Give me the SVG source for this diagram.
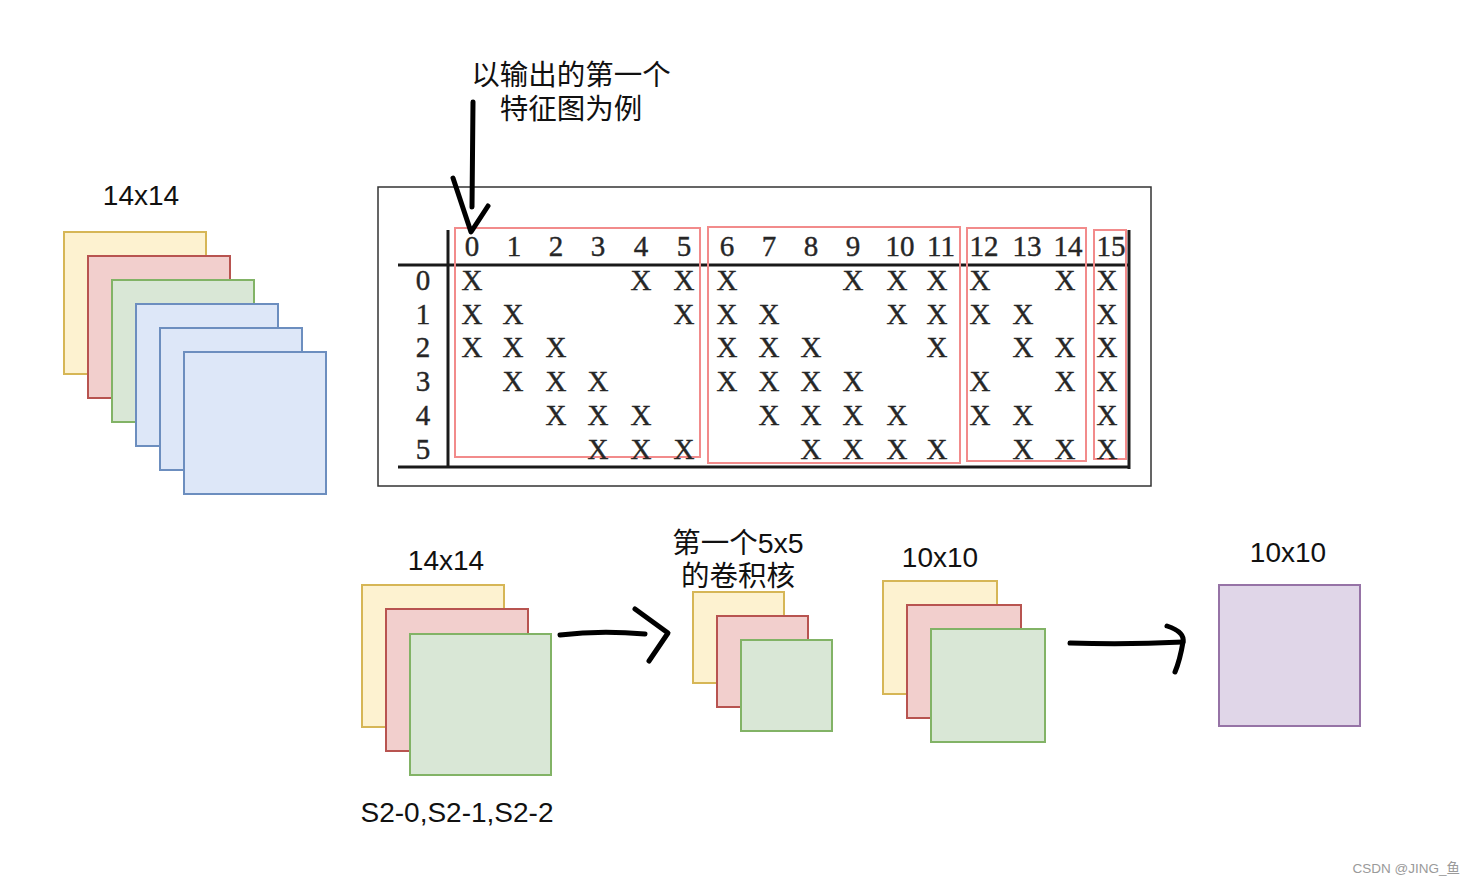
<svg xmlns="http://www.w3.org/2000/svg" width="1476" height="884" viewBox="0 0 1476 884">
<style>
.lbl{font-family:"Liberation Sans",Arial,sans-serif;font-size:28px;fill:#111;text-anchor:middle}
.cjk{font-family:"Liberation Sans","Noto Sans CJK SC",sans-serif;font-size:28.5px;fill:#111;text-anchor:middle}
.tx{font-family:"Liberation Serif","DejaVu Serif",serif;font-size:29px;fill:#262626;stroke:#262626;stroke-width:0.4;text-anchor:middle}
.y{fill:#fdf2d0;stroke:#d6b656;stroke-width:2}
.r{fill:#f2cfcd;stroke:#b85450;stroke-width:2}
.g{fill:#d9e7d6;stroke:#82b366;stroke-width:2}
.b{fill:#dde7f8;stroke:#6c8ebf;stroke-width:2}
.p{fill:#e0d6e8;stroke:#9673a6;stroke-width:2}
.rb{fill:none;stroke:#f28b8b;stroke-width:2}
.tl{stroke:#1a1a1a;stroke-width:3;fill:none}
.hand{stroke:#000;stroke-width:5;fill:none;stroke-linecap:round;stroke-linejoin:round}
</style>
<rect width="1476" height="884" fill="#fff"/>

<g id="note">
<text class="cjk" x="571" y="85">以输出的第一个</text>
<text class="cjk" x="571" y="119">特征图为例</text>
</g>

<g id="input-stack">
<text class="lbl" x="141" y="205">14x14</text>
<rect class="y" x="64" y="232" width="142" height="142"/>
<rect class="r" x="88" y="256" width="142" height="142"/>
<rect class="g" x="112" y="280" width="142" height="142"/>
<rect class="b" x="136" y="304" width="142" height="142"/>
<rect class="b" x="160" y="328" width="142" height="142"/>
<rect class="b" x="184" y="352" width="142" height="142"/>
</g>

<g id="table">
<rect x="378" y="187" width="773" height="299" fill="none" stroke="#333" stroke-width="1.5"/>
<line class="tl" x1="448" y1="230" x2="448" y2="468"/>
<line class="tl" x1="398" y1="265" x2="1130" y2="265"/>
<line class="tl" x1="398" y1="467" x2="1130" y2="467"/>
<line class="tl" x1="1129" y1="230" x2="1129" y2="469" stroke-width="3.5"/>
<rect class="rb" x="455" y="228" width="245" height="229"/>
<rect class="rb" x="708" y="227" width="252" height="236"/>
<rect class="rb" x="967" y="228" width="119" height="233"/>
<rect class="rb" x="1094" y="230" width="32" height="229"/>
<g id="header">
<text class="tx" x="472" y="256">0</text><text class="tx" x="514" y="256">1</text><text class="tx" x="556" y="256">2</text><text class="tx" x="598" y="256">3</text><text class="tx" x="641" y="256">4</text><text class="tx" x="684" y="256">5</text><text class="tx" x="727" y="256">6</text><text class="tx" x="769" y="256">7</text><text class="tx" x="811" y="256">8</text><text class="tx" x="853" y="256">9</text><text class="tx" x="900" y="256">10</text><text class="tx" x="941" y="256">11</text><text class="tx" x="984" y="256">12</text><text class="tx" x="1027" y="256">13</text><text class="tx" x="1068" y="256">14</text><text class="tx" x="1111" y="256">15</text>
</g>
<g id="rowlabels">
<text class="tx" x="423" y="290">0</text><text class="tx" x="423" y="324">1</text><text class="tx" x="423" y="357">2</text><text class="tx" x="423" y="391">3</text><text class="tx" x="423" y="425">4</text><text class="tx" x="423" y="459">5</text>
</g>
<g id="row0">
<text class="tx" x="472" y="290">X</text><text class="tx" x="641" y="290">X</text><text class="tx" x="684" y="290">X</text><text class="tx" x="727" y="290">X</text><text class="tx" x="853" y="290">X</text><text class="tx" x="897" y="290">X</text><text class="tx" x="937" y="290">X</text><text class="tx" x="980" y="290">X</text><text class="tx" x="1065" y="290">X</text><text class="tx" x="1107" y="290">X</text>
</g>
<g id="row1">
<text class="tx" x="472" y="324">X</text><text class="tx" x="513" y="324">X</text><text class="tx" x="684" y="324">X</text><text class="tx" x="727" y="324">X</text><text class="tx" x="769" y="324">X</text><text class="tx" x="897" y="324">X</text><text class="tx" x="937" y="324">X</text><text class="tx" x="980" y="324">X</text><text class="tx" x="1023" y="324">X</text><text class="tx" x="1107" y="324">X</text>
</g>
<g id="row2">
<text class="tx" x="472" y="357">X</text><text class="tx" x="513" y="357">X</text><text class="tx" x="556" y="357">X</text><text class="tx" x="727" y="357">X</text><text class="tx" x="769" y="357">X</text><text class="tx" x="811" y="357">X</text><text class="tx" x="937" y="357">X</text><text class="tx" x="1023" y="357">X</text><text class="tx" x="1065" y="357">X</text><text class="tx" x="1107" y="357">X</text>
</g>
<g id="row3">
<text class="tx" x="513" y="391">X</text><text class="tx" x="556" y="391">X</text><text class="tx" x="598" y="391">X</text><text class="tx" x="727" y="391">X</text><text class="tx" x="769" y="391">X</text><text class="tx" x="811" y="391">X</text><text class="tx" x="853" y="391">X</text><text class="tx" x="980" y="391">X</text><text class="tx" x="1065" y="391">X</text><text class="tx" x="1107" y="391">X</text>
</g>
<g id="row4">
<text class="tx" x="556" y="425">X</text><text class="tx" x="598" y="425">X</text><text class="tx" x="641" y="425">X</text><text class="tx" x="769" y="425">X</text><text class="tx" x="811" y="425">X</text><text class="tx" x="853" y="425">X</text><text class="tx" x="897" y="425">X</text><text class="tx" x="980" y="425">X</text><text class="tx" x="1023" y="425">X</text><text class="tx" x="1107" y="425">X</text>
</g>
<g id="row5">
<text class="tx" x="598" y="459">X</text><text class="tx" x="641" y="459">X</text><text class="tx" x="684" y="459">X</text><text class="tx" x="811" y="459">X</text><text class="tx" x="853" y="459">X</text><text class="tx" x="897" y="459">X</text><text class="tx" x="937" y="459">X</text><text class="tx" x="1023" y="459">X</text><text class="tx" x="1065" y="459">X</text><text class="tx" x="1107" y="459">X</text>
</g>
</g>

<g id="s2-maps">
<text class="lbl" x="446" y="570">14x14</text>
<rect class="y" x="362" y="585" width="142" height="142"/>
<rect class="r" x="386" y="609" width="142" height="142"/>
<rect class="g" x="410" y="634" width="141" height="141"/>
<text class="lbl" x="457" y="822">S2-0,S2-1,S2-2</text>
</g>

<g id="kernel">
<text class="cjk" x="738" y="553">第一个5x5</text>
<text class="cjk" x="738" y="586">的卷积核</text>
<rect class="y" x="693" y="592" width="91" height="91"/>
<rect class="r" x="717" y="616" width="91" height="91"/>
<rect class="g" x="741" y="640" width="91" height="91"/>
</g>

<g id="conv-out">
<text class="lbl" x="940" y="567">10x10</text>
<rect class="y" x="883" y="581" width="114" height="113"/>
<rect class="r" x="907" y="605" width="114" height="113"/>
<rect class="g" x="931" y="629" width="114" height="113"/>
</g>

<g id="sum-out">
<text class="lbl" x="1288" y="562">10x10</text>
<rect class="p" x="1219" y="585" width="141" height="141"/>
</g>

<g id="connectors">
<path class="hand" d="M473,102 L472,207"/>
<path class="hand" d="M453,178 L471,232 L488,206"/>
<path class="hand" d="M560,635 Q600,630 645,634"/>
<path class="hand" d="M635,609 L668,633 L649,661"/>
<path class="hand" d="M1070,643 Q1125,645 1183,642"/>
<path class="hand" d="M1167,626 Q1185,632 1183,642 Q1180,660 1175,672"/>
</g>

<text x="1460" y="873" font-family="Liberation Sans,'Noto Sans CJK SC',sans-serif" font-size="13.5" fill="#9a9a9a" text-anchor="end">CSDN @JING_鱼</text>
</svg>
